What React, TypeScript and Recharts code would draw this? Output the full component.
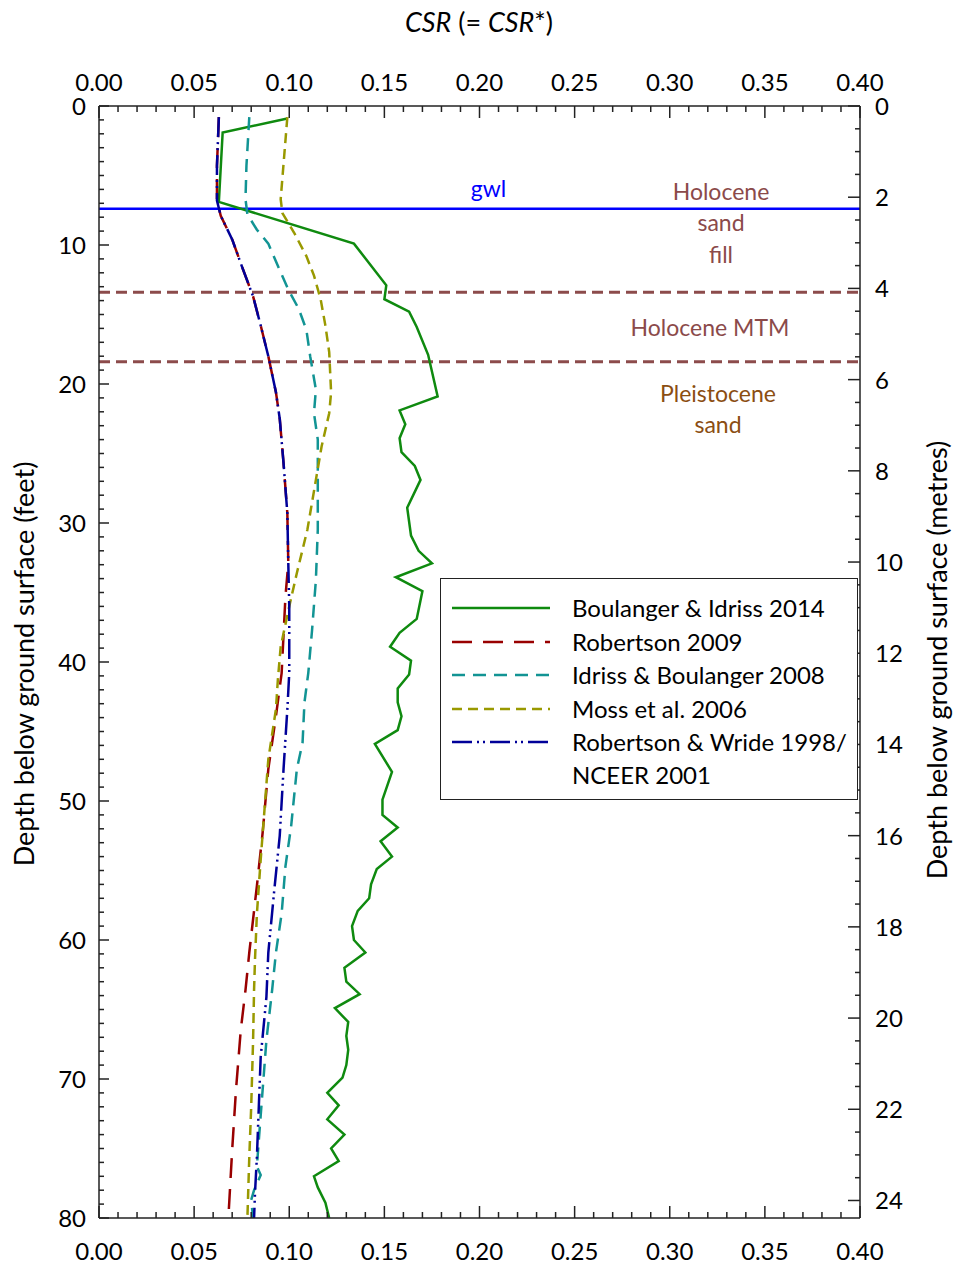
import React from "react";
import { LineChart, Line, XAxis, YAxis, ReferenceLine } from "recharts";

const FONT = "Lato, 'Open Sans', sans-serif";
const AXIS = "#222";
const FT_PER_M = 1 / 0.3048;

// depth (ft) / CSR readings for each method
const biDepth = [0.9, 1.9, 6.9, 9.9, 12.9, 13.9, 14.8, 15.9, 17.9, 20.9, 21.9, 22.9, 23.9, 24.9, 25.9, 26.9, 28.9, 30.9, 32.0, 32.9, 33.9, 34.9, 36.9, 37.9, 38.9, 39.9, 40.9, 41.9, 42.9, 43.9, 44.9, 45.9, 47.9, 49.9, 51.0, 51.9, 52.9, 54.0, 54.9, 56.0, 57.0, 57.9, 59.0, 60.0, 60.9, 62.0, 63.0, 63.9, 64.9, 65.9, 66.9, 67.9, 69.0, 69.9, 71.0, 71.9, 72.9, 74.0, 75.0, 75.9, 77.0, 77.8, 78.9, 80.0];
const biCsr = [0.099, 0.065, 0.063, 0.134, 0.151, 0.150, 0.163, 0.167, 0.173, 0.178, 0.158, 0.161, 0.158, 0.159, 0.166, 0.169, 0.162, 0.164, 0.168, 0.175, 0.156, 0.170, 0.167, 0.158, 0.153, 0.164, 0.163, 0.157, 0.157, 0.159, 0.157, 0.145, 0.154, 0.149, 0.149, 0.157, 0.148, 0.154, 0.146, 0.143, 0.142, 0.136, 0.133, 0.134, 0.140, 0.129, 0.130, 0.137, 0.124, 0.131, 0.130, 0.131, 0.130, 0.128, 0.120, 0.126, 0.120, 0.129, 0.122, 0.126, 0.113, 0.115, 0.119, 0.121];

const rob09Depth = [0.8, 4.3, 6.8, 7.9, 9.6, 11.5, 13.7, 15.8, 18.0, 20.6, 22.5, 25.7, 29.3, 32.9, 35.3, 40.8, 43.9, 47.7, 52.3, 56.1, 60.9, 63.6, 66.5, 70.8, 75.1, 80.0];
const rob09Csr = [0.063, 0.062, 0.062, 0.064, 0.070, 0.075, 0.081, 0.085, 0.089, 0.093, 0.095, 0.097, 0.099, 0.0995, 0.098, 0.096, 0.093, 0.089, 0.086, 0.083, 0.079, 0.077, 0.0745, 0.072, 0.070, 0.068];

const ib08Depth = [0.8, 4.3, 6.7, 7.8, 8.9, 9.9, 11.5, 13.2, 14.6, 16.1, 18.0, 20.4, 22.1, 24.0, 26.9, 30.5, 34.1, 37.7, 40.8, 42.9, 45.8, 47.7, 51.8, 54.7, 58.1, 60.9, 63.6, 67.2, 70.8, 74.4, 76.3, 76.9, 78.0, 78.7, 80.0];
const ib08Csr = [0.079, 0.0775, 0.077, 0.078, 0.083, 0.089, 0.094, 0.0995, 0.105, 0.109, 0.111, 0.114, 0.113, 0.115, 0.115, 0.115, 0.114, 0.112, 0.110, 0.108, 0.107, 0.104, 0.101, 0.098, 0.096, 0.093, 0.091, 0.088, 0.086, 0.084, 0.083, 0.085, 0.0815, 0.080, 0.081];

const moss06Depth = [0.8, 6.7, 7.7, 9.1, 10.8, 12.2, 13.9, 15.8, 17.7, 20.6, 22.1, 24.5, 26.9, 30.5, 33.6, 36.0, 38.9, 41.3, 43.4, 47.0, 50.6, 54.2, 58.1, 61.4, 63.6, 67.2, 72.0, 75.6, 80.0];
const moss06Csr = [0.099, 0.0955, 0.0964, 0.1025, 0.109, 0.113, 0.1165, 0.119, 0.121, 0.122, 0.121, 0.117, 0.114, 0.1095, 0.104, 0.100, 0.0955, 0.094, 0.093, 0.089, 0.087, 0.085, 0.083, 0.082, 0.0815, 0.081, 0.080, 0.079, 0.078];

const rw98Depth = [0.8, 4.3, 6.8, 7.9, 9.6, 11.5, 13.7, 15.8, 18.0, 20.6, 22.5, 25.7, 29.3, 32.9, 36.0, 40.8, 43.4, 47.7, 52.5, 56.6, 60.9, 64.1, 68.4, 72.0, 75.6, 78.2, 80.0];
const rw98Csr = [0.063, 0.062, 0.062, 0.064, 0.070, 0.075, 0.081, 0.085, 0.089, 0.093, 0.095, 0.097, 0.099, 0.0995, 0.100, 0.100, 0.099, 0.097, 0.095, 0.092, 0.089, 0.088, 0.085, 0.084, 0.083, 0.082, 0.0815];

// layer boundaries (ft)
const gwlDepth = 7.4;
const layerBounds = [13.4, 18.4];

const csrLabels = [0, 0.05, 0.1, 0.15, 0.2, 0.25, 0.3, 0.35, 0.4];
const feetLabels = [0, 10, 20, 30, 40, 50, 60, 70, 80];
const metreLabels = [0, 2, 4, 6, 8, 10, 12, 14, 16, 18, 20, 22, 24];

const csrTicks = Array.from({ length: 41 }, (_, i) => i / 100);
const feetTicks = Array.from({ length: 81 }, (_, i) => i);
// half-metre ticks, expressed in feet so they share the depth scale
const metreTicksFt = Array.from({ length: 49 }, (_, i) => (i / 2) * FT_PER_M);

const rows = (depth: number[], csr: number[]) => depth.map((d, i) => ({ depth: d, csr: csr[i] }));

const series = [
  { name: "Boulanger & Idriss 2014", data: rows(biDepth, biCsr), color: "#0f8a0f", dash: undefined },
  { name: "Robertson 2009", data: rows(rob09Depth, rob09Csr), color: "#990000", dash: "20 11" },
  { name: "Idriss & Boulanger 2008", data: rows(ib08Depth, ib08Csr), color: "#129494", dash: "13 8" },
  { name: "Moss et al. 2006", data: rows(moss06Depth, moss06Csr), color: "#999900", dash: "10 6" },
  { name: "Robertson & Wride 1998/\nNCEER 2001", data: rows(rw98Depth, rw98Csr), color: "#000099", dash: "20 5 2 4 2 5" },
];

const near = (v: number, list: number[]) => list.some((l) => Math.abs(l - v) < 1e-6);

const textStyle = { fontFamily: FONT, fontSize: 24, fill: "#000" };

const xTick = (side: "top" | "bottom") => (props: any) => {
  const { x, y, payload } = props;
  const v = payload.value as number;
  const major = near(v, csrLabels);
  const dir = side === "top" ? 1 : -1;
  return (
    <g>
      <line x1={x} x2={x} y1={y} y2={y + dir * (major ? 12 : 6)} stroke={AXIS} strokeWidth={1.5} />
      {major && (
        <text x={x} y={side === "top" ? y - 15 : y + 42} textAnchor="middle" style={textStyle}>
          {v.toFixed(2)}
        </text>
      )}
    </g>
  );
};

const feetTick = (props: any) => {
  const { x, y, payload } = props;
  const major = near(payload.value, feetLabels);
  return (
    <g>
      <line x1={x} x2={x + (major ? 10 : 5)} y1={y} y2={y} stroke={AXIS} strokeWidth={1.5} />
      {major && (
        <text x={x - 13} y={y + 9} textAnchor="end" style={textStyle}>
          {payload.value}
        </text>
      )}
    </g>
  );
};

const metreTick = (props: any) => {
  const { x, y, payload } = props;
  const m = Math.round((payload.value / FT_PER_M) * 2) / 2;
  const major = near(m, metreLabels);
  return (
    <g>
      <line x1={x} x2={x - (major ? 12 : 5)} y1={y} y2={y} stroke={AXIS} strokeWidth={1.5} />
      {major && (
        <text x={x + 15} y={y + 9} textAnchor="start" style={textStyle}>
          {m}
        </text>
      )}
    </g>
  );
};

function LegendBox() {
  return (
    <div
      style={{
        position: "absolute",
        left: 440,
        top: 578,
        width: 418,
        height: 222,
        border: "1.5px solid #222",
        background: "#fff",
        fontFamily: FONT,
        fontSize: 24,
        boxSizing: "border-box",
      }}
    >
      {series.map((s, i) => (
        <div key={s.name} style={{ position: "absolute", left: 0, top: 12 + i * 33.5, height: 33, width: "100%" }}>
          <svg width={110} height={34} style={{ position: "absolute", left: 0, top: 0 }}>
            <line x1={11} x2={109} y1={17} y2={17} stroke={s.color} strokeWidth={2.5} strokeDasharray={s.dash} />
          </svg>
          <div style={{ position: "absolute", left: 131, top: 0, lineHeight: "33px", whiteSpace: "pre" }}>{s.name}</div>
        </div>
      ))}
    </div>
  );
}

export default function App() {
  return (
    <div style={{ position: "absolute", left: 0, top: 0, width: 954, height: 1264, background: "#fff" }}>
      <LineChart
        width={954}
        height={1264}
        layout="vertical"
        margin={{ top: 0, right: 0, bottom: 0, left: 0 }}
      >
        <XAxis
          xAxisId="bottom"
          type="number"
          orientation="bottom"
          domain={[0, 0.4]}
          ticks={csrTicks}
          interval={0}
          height={46}
          tickSize={0}
          tickMargin={0}
          tickLine={false}
          axisLine={{ stroke: AXIS, strokeWidth: 1.5 }}
          tick={xTick("bottom")}
          allowDataOverflow
        />
        <XAxis
          xAxisId="top"
          type="number"
          orientation="top"
          domain={[0, 0.4]}
          ticks={csrTicks}
          interval={0}
          height={106}
          tickSize={0}
          tickMargin={0}
          tickLine={false}
          axisLine={{ stroke: AXIS, strokeWidth: 1.5 }}
          tick={xTick("top")}
          allowDataOverflow
        />
        <YAxis
          yAxisId="ft"
          type="number"
          dataKey="depth"
          orientation="left"
          domain={[0, 80]}
          ticks={feetTicks}
          interval={0}
          width={99}
          tickSize={0}
          tickMargin={0}
          tickLine={false}
          axisLine={{ stroke: AXIS, strokeWidth: 1.5 }}
          tick={feetTick}
          allowDataOverflow
        />
        <YAxis
          yAxisId="m"
          type="number"
          dataKey="depth"
          orientation="right"
          domain={[0, 80]}
          ticks={metreTicksFt}
          interval={0}
          width={94}
          tickSize={0}
          tickMargin={0}
          tickLine={false}
          axisLine={{ stroke: AXIS, strokeWidth: 1.5 }}
          tick={metreTick}
          allowDataOverflow
        />
        <ReferenceLine
          xAxisId="bottom"
          yAxisId="ft"
          y={gwlDepth}
          stroke="#0000ff"
          strokeWidth={2.5}
          label={{ value: "gwl", position: "top", fill: "#0000ff", fontSize: 23, fontFamily: FONT, dx: 9, offset: 12 }}
        />
        {layerBounds.map((d) => (
          <ReferenceLine
            key={d}
            xAxisId="bottom"
            yAxisId="ft"
            y={d}
            stroke="#8c4b4b"
            strokeWidth={3}
            strokeDasharray="11 6"
          />
        ))}
        {series.map((s) => (
          <Line
            key={s.name}
            xAxisId="bottom"
            yAxisId="ft"
            data={s.data}
            dataKey="csr"
            type="linear"
            stroke={s.color}
            strokeWidth={2.5}
            strokeDasharray={s.dash}
            dot={false}
            isAnimationActive={false}
          />
        ))}
      </LineChart>

      <svg width={954} height={1264} style={{ position: "absolute", left: 0, top: 0, pointerEvents: "none" }}>
        <text x={479} y={32} textAnchor="middle" style={{ fontFamily: FONT, fontSize: 27 }}>
          <tspan fontStyle="italic">CSR</tspan>
          <tspan> (= </tspan>
          <tspan fontStyle="italic">CSR</tspan>
          <tspan>*)</tspan>
        </text>
        <text
          transform="translate(34, 664) rotate(-90)"
          textAnchor="middle"
          style={{ fontFamily: FONT, fontSize: 27 }}
        >
          Depth below ground surface (feet)
        </text>
        <text
          transform="translate(947, 660) rotate(-90)"
          textAnchor="middle"
          style={{ fontFamily: FONT, fontSize: 27 }}
        >
          Depth below ground surface (metres)
        </text>
        <g style={{ fontFamily: FONT, fontSize: 23 }} textAnchor="middle">
          <text x={721} y={200} fill="#8b4a4a">Holocene</text>
          <text x={721} y={231} fill="#8b4a4a">sand</text>
          <text x={721} y={263} fill="#8b4a4a">fill</text>
          <text x={710} y={336} fill="#8b4a4a">Holocene MTM</text>
          <text x={718} y={402} fill="#8b4e12">Pleistocene</text>
          <text x={718} y={433} fill="#8b4e12">sand</text>
        </g>
      </svg>

      <LegendBox />
    </div>
  );
}
